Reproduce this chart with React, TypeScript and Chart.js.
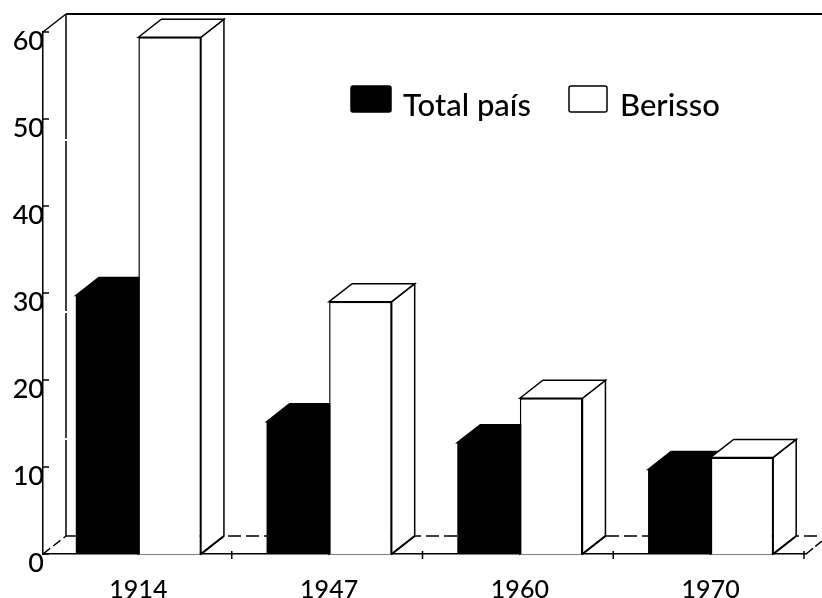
import React, { useEffect, useRef } from "react";
import { Chart, registerables } from "chart.js";

Chart.register(...registerables);

const categories = ["1914", "1947", "1960", "1970"];
const totalPais = [29.7, 15.2, 12.8, 9.7];
const berisso = [59.4, 29, 17.9, 11.1];
const seriesNames = ["Total país", "Berisso"];
const yTicks = [0, 10, 20, 30, 40, 50, 60];

const DX = 23;
const DY = 18;
const INK = "#000000";

function poly(ctx: CanvasRenderingContext2D, pts: number[][], fill: string) {
  ctx.beginPath();
  pts.forEach((p, i) => (i ? ctx.lineTo(p[0], p[1]) : ctx.moveTo(p[0], p[1])));
  ctx.closePath();
  ctx.fillStyle = fill;
  ctx.fill();
  ctx.stroke();
}

function seg(ctx: CanvasRenderingContext2D, a: number[], b: number[], dash: number[] = [], width = 1.5) {
  ctx.save();
  ctx.setLineDash(dash);
  ctx.lineWidth = width;
  ctx.beginPath();
  ctx.moveTo(a[0], a[1]);
  ctx.lineTo(b[0], b[1]);
  ctx.stroke();
  ctx.restore();
}

const box3d = {
  id: "box3d",
  beforeDatasetsDraw(chart: any) {
    const { ctx, scales, width } = chart;
    const x = scales.x;
    const y = scales.y;
    const L = x.left;
    const R = x.right;
    const y0 = y.getPixelForValue(0);
    const yT = y.getPixelForValue(60);
    ctx.save();
    ctx.strokeStyle = INK;
    ctx.lineWidth = 1.5;

    // back wall and floor
    seg(ctx, [L + DX, yT - DY], [width, yT - DY], [], 2);
    seg(ctx, [L, yT], [L + DX, yT - DY]);
    seg(ctx, [L + DX, yT - DY], [L + DX, y0 - DY], [125, 2, 170, 2]);
    seg(ctx, [L, y0], [L + DX, y0 - DY], [9, 4]);
    seg(ctx, [L + DX, y0 - DY], [width, y0 - DY], [13, 5]);
    seg(ctx, [R, y0], [width, y0 - 13], [9, 3]);

    // y ticks
    yTicks.forEach((t) => {
      const py = y.getPixelForValue(t);
      seg(ctx, [L - 1, py], [L + 6, py]);
    });
    // x ticks at category boundaries
    const step = x.getPixelForValue(1) - x.getPixelForValue(0);
    categories.forEach((_, i) => {
      const px = x.getPixelForValue(i) + step / 2 - 2;
      seg(ctx, [px, y0 - 3], [px, y0 + 5]);
    });

    // extrusions
    [0, 1].forEach((ds) => {
      const fill = ds === 0 ? INK : "#ffffff";
      chart.getDatasetMeta(ds).data.forEach((bar: any) => {
        const l = bar.x - bar.width / 2;
        const r = bar.x + bar.width / 2;
        const t = bar.y;
        poly(ctx, [[r, t], [r + DX, t - DY], [r + DX, y0 - DY], [r, y0]], fill);
        poly(ctx, [[l, t], [l + DX, t - DY], [r + DX, t - DY], [r, t]], fill);
      });
    });
    ctx.restore();
  },
  afterDatasetsDraw(chart: any) {
    const { ctx, scales } = chart;
    const y0 = scales.y.getPixelForValue(0);
    ctx.save();
    ctx.strokeStyle = INK;
    chart.getDatasetMeta(1).data.forEach((bar: any) => {
      const r = bar.x + bar.width / 2;
      seg(ctx, [r, y0], [r + DX, y0 - DY], [], 2);
    });

    // legend
    const items = [
      { box: [351, 86, 40, 26], textX: 403, fill: INK },
      { box: [569, 86, 38, 26], textX: 620, fill: "#ffffff" },
    ];
    ctx.font = "500 31px Lato";
    ctx.textBaseline = "alphabetic";
    ctx.textAlign = "left";
    items.forEach((it, i) => {
      ctx.beginPath();
      ctx.roundRect(it.box[0], it.box[1], it.box[2], it.box[3], 2);
      ctx.fillStyle = it.fill;
      ctx.fill();
      ctx.lineWidth = 1.5;
      ctx.stroke();
      ctx.fillStyle = INK;
      ctx.fillText(seriesNames[i], it.textX, 116);
    });
    ctx.restore();
  },
};

export default function App() {
  const ref = useRef<HTMLCanvasElement | null>(null);
  useEffect(() => {
    document.body.style.margin = "0";
    document.body.style.background = "#ffffff";
    const chart = new Chart(ref.current as HTMLCanvasElement, {
      type: "bar",
      data: {
        labels: categories,
        datasets: [
          { label: seriesNames[0], data: totalPais, backgroundColor: INK, borderWidth: 0 },
          { label: seriesNames[1], data: berisso, backgroundColor: "#ffffff", borderColor: INK, borderWidth: 1.5 },
        ],
      },
      options: {
        responsive: false,
        animation: false,
        layout: { padding: { top: 32, right: 16, left: 0, bottom: 0 } },
        plugins: { legend: { display: false }, tooltip: { enabled: false } },
        datasets: { bar: { barPercentage: 1, categoryPercentage: 0.656 } },
        scales: {
          x: {
            grid: { display: false, drawTicks: false },
            border: { display: true, color: INK, width: 1.5, dash: [10, 4] },
            ticks: { color: INK, font: { family: "Lato", size: 25, weight: "500" }, padding: 21, maxRotation: 0 },
            afterFit: (s: any) => { s.height = 44; },
          },
          y: {
            min: 0,
            max: 60,
            afterBuildTicks: (s: any) => { s.ticks = yTicks.map((value) => ({ value })); },
            grid: { display: false, drawTicks: false },
            border: { display: true, color: INK, width: 1.5 },
            ticks: { color: INK, font: { family: "Lato", size: 27, weight: "500" }, padding: -1, labelOffset: 9 },
            afterFit: (s: any) => { s.width = 43; },
          },
        },
      } as any,
      plugins: [box3d],
    });
    return () => chart.destroy();
  }, []);
  return <canvas ref={ref} width={822} height={598} style={{ display: "block" }} />;
}
